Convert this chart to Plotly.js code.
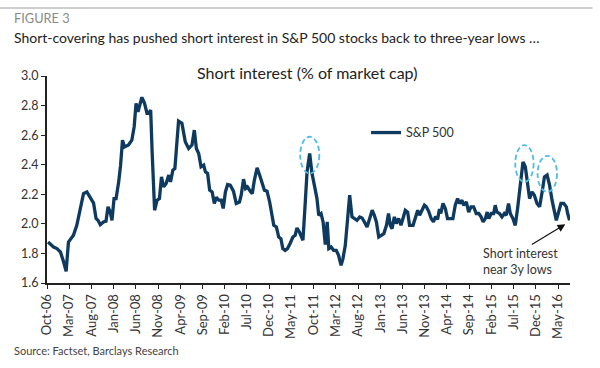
<!DOCTYPE html>
<html>
<head>
<meta charset="utf-8">
<script src="https://cdn.plot.ly/plotly-3.0.1.min.js"></script>
<style>html,body{margin:0;padding:0;background:#fff;}#chart{width:600px;height:368px;}</style>
</head>
<body>
<div id="chart"></div>
<script>
// Short interest (% of market cap), S&P 500
const dates = [
"2006-10-08","2006-11-15","2006-12-08","2007-01-01","2007-01-23","2007-02-09","2007-02-25","2007-03-31","2007-04-23","2007-05-16",
"2007-06-08","2007-07-01","2007-07-24","2007-08-16","2007-09-02","2007-09-15","2007-10-01","2007-10-23","2007-11-09","2007-11-23",
"2007-12-08","2007-12-20","2008-01-03","2008-01-17","2008-02-04","2008-02-17","2008-03-01","2008-03-15","2008-04-11","2008-05-04",
"2008-05-20","2008-06-02","2008-06-15","2008-06-26","2008-07-12","2008-07-30","2008-08-16","2008-08-27","2008-09-10","2008-09-20",
"2008-10-07","2008-10-24","2008-11-09","2008-11-23","2008-12-08","2008-12-25","2009-01-12","2009-01-24","2009-02-09","2009-02-23",
"2009-03-09","2009-03-20","2009-04-12","2009-05-05","2009-05-28","2009-06-20","2009-07-06","2009-07-20","2009-08-05","2009-08-21",
"2009-09-08","2009-09-20","2009-10-05","2009-10-19","2009-11-05","2009-11-20","2009-12-04","2009-12-20","2010-01-06","2010-01-20",
"2010-02-04","2010-02-19","2010-03-09","2010-03-31","2010-04-19","2010-05-11","2010-05-23","2010-06-08","2010-06-22","2010-07-05",
"2010-07-24","2010-08-07","2010-08-21","2010-09-09","2010-09-26","2010-10-13","2010-10-29","2010-11-16","2010-12-04","2010-12-20",
"2011-01-01","2011-01-19","2011-02-04","2011-02-19","2011-03-04","2011-03-20","2011-04-05","2011-04-23","2011-05-12","2011-05-28",
"2011-06-09","2011-06-26","2011-07-20","2011-08-05","2011-08-17","2011-09-04","2011-09-20","2011-10-06","2011-10-24","2011-11-05",
"2011-11-21","2011-12-05","2011-12-20","2012-01-02","2012-01-13","2012-01-29","2012-02-15","2012-03-04","2012-03-20","2012-04-06",
"2012-04-19","2012-05-05","2012-05-21","2012-06-04","2012-06-20","2012-07-06","2012-07-24","2012-08-12","2012-08-28","2012-09-13",
"2012-10-01","2012-10-19","2012-11-05","2012-11-20","2012-12-04","2012-12-20","2013-01-06","2013-01-24","2013-02-11","2013-02-25",
"2013-03-09","2013-03-21","2013-04-06","2013-04-19","2013-05-05","2013-05-21","2013-06-04","2013-06-20","2013-07-06","2013-07-19",
"2013-08-12","2013-08-28","2013-09-13","2013-09-26","2013-10-13","2013-10-29","2013-11-11","2013-11-27","2013-12-14","2013-12-30",
"2014-01-13","2014-01-27","2014-02-09","2014-02-18","2014-03-05","2014-03-21","2014-04-05","2014-04-24","2014-05-12","2014-05-28",
"2014-06-13","2014-06-26","2014-07-13","2014-07-24","2014-08-12","2014-08-28","2014-09-13","2014-10-01","2014-10-19","2014-11-05",
"2014-11-21","2014-12-05","2014-12-20","2015-01-02","2015-01-13","2015-01-29","2015-02-15","2015-02-26","2015-03-09","2015-03-27",
"2015-04-13","2015-04-29","2015-05-12","2015-05-28","2015-06-09","2015-06-27","2015-07-13","2015-07-29","2015-08-17","2015-09-04",
"2015-09-20","2015-10-06","2015-10-19","2015-11-05","2015-11-21","2015-12-09","2015-12-27","2016-01-13","2016-01-29","2016-02-16",
"2016-03-04","2016-03-21","2016-04-06","2016-04-19","2016-05-05","2016-05-21","2016-06-09","2016-06-27","2016-07-06","2016-07-19"
];
const sp500 = [
1.877,1.843,1.833,1.810,1.742,1.679,1.877,1.923,1.990,2.100,
2.205,2.216,2.180,2.140,2.036,2.024,1.995,2.013,2.018,2.115,
2.080,2.024,2.170,2.170,2.284,2.397,2.566,2.520,2.533,2.566,
2.657,2.815,2.758,2.792,2.856,2.815,2.747,2.747,2.770,2.487,
2.092,2.160,2.171,2.318,2.250,2.273,2.330,2.284,2.363,2.375,
2.578,2.695,2.680,2.555,2.510,2.533,2.634,2.510,2.476,2.386,
2.397,2.352,2.341,2.228,2.216,2.138,2.180,2.160,2.160,2.104,
2.216,2.266,2.262,2.221,2.138,2.148,2.194,2.302,2.239,2.250,
2.221,2.205,2.295,2.379,2.330,2.284,2.228,2.221,2.148,2.058,
1.990,1.979,1.911,1.900,1.833,1.821,1.833,1.867,1.911,1.923,
1.972,1.945,1.889,2.148,2.352,2.476,2.341,2.262,2.171,2.058,
2.070,2.013,1.860,2.013,1.833,1.843,1.821,1.821,1.787,1.720,
1.765,1.855,2.013,2.194,2.047,2.036,2.024,2.047,2.040,2.013,
1.979,2.036,2.092,2.058,2.013,1.911,1.923,1.934,1.990,2.070,
1.990,1.968,2.047,2.002,2.036,1.990,2.036,2.092,2.080,1.990,
1.990,2.047,2.092,2.058,2.092,2.126,2.115,2.085,2.036,2.013,
2.050,2.030,2.100,2.070,2.138,2.104,2.036,2.036,2.036,2.126,
2.171,2.138,2.160,2.126,2.148,2.080,2.115,2.115,2.070,2.070,
2.047,2.013,2.036,2.080,2.036,2.070,2.070,2.126,2.080,2.070,
2.047,2.070,2.058,2.138,2.070,2.036,1.990,2.104,2.284,2.419,
2.386,2.262,2.171,2.216,2.194,2.138,2.115,2.216,2.318,2.330,
2.262,2.160,2.080,2.024,2.080,2.138,2.138,2.115,2.070,2.024
];
const seriesName = "S&P 500";
const yTicks = [1.6, 1.8, 2.0, 2.2, 2.4, 2.6, 2.8, 3.0];
// highlighted peaks (dashed ellipses): [x0, x1, y0, y1]
const peakRings = [
  ["2011-07-01", "2011-11-09", 2.341, 2.589],
  ["2015-07-13", "2015-11-16", 2.284, 2.533],
  ["2015-12-13", "2016-04-24", 2.216, 2.460]
];

const FONT = "Lato, 'Open Sans', sans-serif";
const trace = {
  x: dates, y: sp500, type: "scatter", mode: "lines", name: seriesName,
  line: {color: "#0f3a5f", width: 3.3}
};

const shapes = peakRings.map(r => ({
  type: "circle", xref: "x", yref: "y", x0: r[0], x1: r[1], y0: r[2], y1: r[3], layer: "above",
  line: {color: "#4fbde3", width: 1.8, dash: "5px,3px"}
}));
shapes.push({type: "line", xref: "paper", yref: "paper", x0: -0.09, x1: 1.043, y0: 1.3285, y1: 1.3285,
  line: {color: "#bdbdbd", width: 1.5}});

const layout = {
  width: 600, height: 368,
  margin: {l: 47, r: 30, t: 76, b: 85},
  paper_bgcolor: "#fff", plot_bgcolor: "#fff",
  font: {family: FONT, size: 12, color: "#333"},
  showlegend: true,
  legend: {x: 0.61, y: 0.725, xanchor: "left", yanchor: "middle", bgcolor: "rgba(0,0,0,0)",
    font: {family: FONT, size: 12.5, color: "#333"}},
  xaxis: {
    type: "date", range: ["2006-10-01", "2016-07-22"],
    tick0: "2006-10-01", dtick: "M5", tickformat: "%b-%y", tickangle: -90,
    ticks: "outside", ticklen: 4, tickcolor: "#222", tickwidth: 1,
    showline: true, linecolor: "#222", linewidth: 2, showgrid: false, zeroline: false,
    tickfont: {family: FONT, size: 13, color: "#333"}
  },
  yaxis: {
    range: [1.6, 3.0], tickvals: yTicks, tickformat: ".1f",
    ticks: "outside", ticklen: 4, tickcolor: "#222", tickwidth: 1,
    showline: true, linecolor: "#222", linewidth: 2, showgrid: false, zeroline: false,
    tickfont: {family: FONT, size: 12.5, color: "#333"}
  },
  shapes: shapes,
  annotations: [
    {xref: "paper", yref: "paper", x: -0.067, y: 1.28, xanchor: "left", yanchor: "middle", showarrow: false,
      text: "FIGURE 3", font: {family: FONT, size: 12.8, color: "#8a8a8a"}},
    {xref: "paper", yref: "paper", x: -0.067, y: 1.188, xanchor: "left", yanchor: "middle", showarrow: false,
      text: "Short-covering has pushed short interest in S&P 500 stocks back to three-year lows …",
      font: {family: FONT, size: 14, color: "#222"}},
    {xref: "paper", yref: "paper", x: 0.497, y: 1.015, xanchor: "center", yanchor: "middle", showarrow: false,
      text: "Short interest (% of market cap)", font: {family: FONT, size: 16, color: "#222"}},
    {xref: "paper", yref: "paper", x: 0.829, y: 0.106, xanchor: "left", yanchor: "middle", showarrow: false, align: "left",
      text: "Short interest<br>near 3y lows", font: {family: FONT, size: 12.5, color: "#333"}},
    {xref: "x", yref: "y", x: "2016-06-20", y: 1.997, ax: -35, ay: 21, showarrow: true, text: "",
      arrowhead: 2, arrowsize: 1.3, arrowwidth: 1.2, arrowcolor: "#111"},
    {xref: "paper", yref: "paper", x: -0.067, y: -0.324, xanchor: "left", yanchor: "middle", showarrow: false,
      text: "Source: Factset, Barclays Research", font: {family: FONT, size: 11, color: "#444"}}
  ]
};

Plotly.newPlot("chart", [trace], layout, {staticPlot: true, displayModeBar: false});
</script>
</body>
</html>
